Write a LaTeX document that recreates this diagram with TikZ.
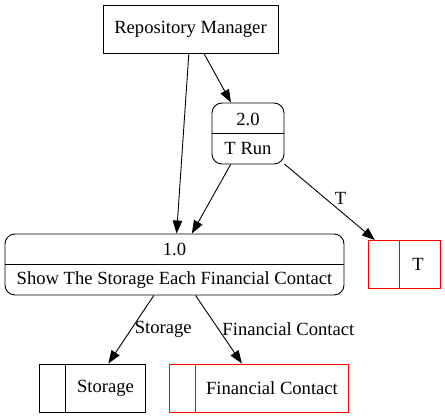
\documentclass[tikz,border=0pt]{standalone}
\usepackage{fontspec}
\setmainfont{Liberation Serif}
\usetikzlibrary{positioning, arrows.meta}

\begin{document}
\begin{tikzpicture}[
    x=1pt, y=-1pt,
    every node/.style={font=\fontsize{18.6}{22.3}\selectfont, inner sep=3.33pt},
    entity/.style={draw, rectangle, line width=0.9pt, minimum width=175pt, minimum height=48pt},
    process/.style={draw, rectangle, rounded corners=10pt, line width=0.9pt, minimum height=61pt},
    store/.style={draw, rectangle, line width=0.9pt, minimum height=48pt},
    arr/.style={-{Triangle[length=13pt, width=9.5pt]}, line width=0.9pt}
]
    \useasboundingbox (0,0) rectangle (445,419);

    \node[entity] (rm) at (190.5,29) {Repository Manager};

    \node[process, minimum width=72pt] (p2) at (248,133.5) {};
    \draw[line width=0.9pt] (p2.west) -- (p2.east);
    \node (p2num) at (248,119) {2.0};
    \node (p2name) at (248,149) {T Run};

    \node[process, minimum width=339pt] (p1) at (174.5,264.5) {};
    \draw[line width=0.9pt] (p1.west) -- (p1.east);
    \node (p1num) at (174.5,249) {1.0};
    \node (p1name) at (174.5,280) {Show The Storage Each Financial Contact};

    \node[store, red, minimum width=72pt] (d3) at (404,264.5) {};
    \draw[red, line width=0.9pt] ([xshift=32pt]d3.north west) -- ([xshift=32pt]d3.south west);
    \node (d3name) at (418,264.5) {T};

    \node[store, minimum width=106pt] (d1) at (92,388) {};
    \draw[line width=0.9pt] ([xshift=27pt]d1.north west) -- ([xshift=27pt]d1.south west);
    \node (d1name) at (105.5,388) {Storage};

    \node[store, red, minimum width=179pt] (d2) at (258.5,388) {};
    \draw[red, line width=0.9pt] ([xshift=27pt]d2.north west) -- ([xshift=27pt]d2.south west);
    \node (d2name) at (272,388) {Financial Contact};

    \draw[arr] (rm) -- (p1);
    \draw[arr] (rm) -- (p2);
    \draw[arr] (p2) -- (p1);
    \draw[arr] (p2) -- node[pos=0.62, above, yshift=3pt] (lt) {T} (d3);
    \draw[arr] (p1) -- node[right] (ls) {Storage} (d1);
    \draw[arr] (p1) -- node[right] (lf) {Financial Contact} (d2);
\end{tikzpicture}
\end{document}
